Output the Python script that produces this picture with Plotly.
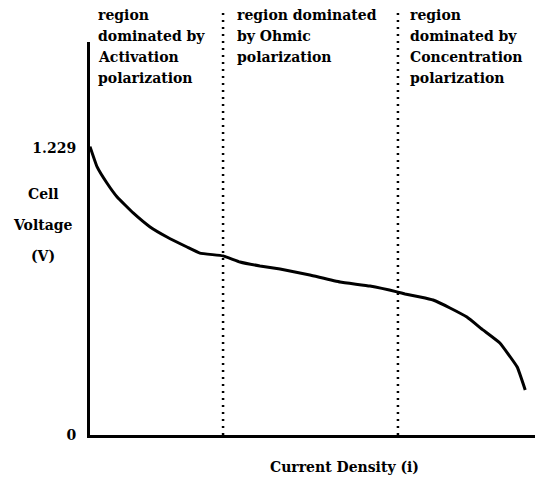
import plotly.graph_objects as go

# polarization curve
current_density = [0.000, 0.016, 0.038, 0.061, 0.097, 0.135, 0.173, 0.218, 0.247,
                   0.299, 0.337, 0.382, 0.427, 0.494, 0.562, 0.629, 0.692, 0.708, 0.742,
                   0.771, 0.809, 0.847, 0.883, 0.921, 0.960, 0.978]
cell_voltage = [1.235, 1.148, 1.079, 1.019, 0.951, 0.891, 0.848, 0.805, 0.779,
                0.767, 0.741, 0.724, 0.711, 0.685, 0.655, 0.638, 0.612, 0.604, 0.591,
                0.578, 0.544, 0.505, 0.450, 0.394, 0.291, 0.193]

region_bounds = [0.299, 0.692]
region_starts = [0.0, 0.299, 0.692]
region_labels = [
    ["region", "dominated by", "Activation", "polarization"],
    ["region dominated", "by Ohmic", "polarization"],
    ["region", "dominated by", "Concentration", "polarization"],
]
y_ticks = [0, 1.229]
y_tick_text = ["0", "1.229"]
y_title_lines = ["Cell", "Voltage", "(V)"]
x_title = "Current Density (i)"

# the page body adds an 8px margin, so the figure is a bit smaller than the window
W, H = 537, 473
L, R, T, B = 82, 10, 34, 46
plot_h = H - T - B
plot_w = W - L - R
FONT = "DejaVu Serif"
PAGE_BOTTOM = 8 + H - B   # pixel row of the x axis in the window
PAGE_LEFT = 8 + L


def py(pix):
    # window pixel row -> paper y
    return (PAGE_BOTTOM - pix) / plot_h


def px(pix):
    # window pixel column -> paper x
    return (pix - PAGE_LEFT) / plot_w


fig = go.Figure()
fig.add_trace(go.Scatter(x=current_density, y=cell_voltage, mode="lines",
                         line=dict(color="black", width=3, shape="spline", smoothing=0.3),
                         hoverinfo="skip"))

for xb in region_bounds:
    fig.add_shape(type="line", xref="x", yref="paper", x0=xb, x1=xb, y0=0, y1=py(8),
                  line=dict(color="black", width=2.5, dash="2px,5px"))

annotations = []
x_offsets = [6, 12, 10]
for start, lines, dx in zip(region_starts, region_labels, x_offsets):
    for i, txt in enumerate(lines):
        annotations.append(dict(x=start, xref="x", xshift=dx, y=py(15 + 21 * i), yref="paper",
                                text="<b>%s</b>" % txt, showarrow=False, xanchor="left",
                                yanchor="middle", font=dict(family=FONT, size=14, color="black")))

for i, txt in enumerate(y_title_lines):
    annotations.append(dict(x=px(43), xref="paper", y=py(194 + 31 * i), yref="paper",
                            text="<b>%s</b>" % txt, showarrow=False, xanchor="center",
                            yanchor="middle", font=dict(family=FONT, size=14, color="black")))

annotations.append(dict(x=px(344), xref="paper", y=py(467), yref="paper",
                        text="<b>%s</b>" % x_title, showarrow=False, xanchor="center",
                        yanchor="middle", font=dict(family=FONT, size=14, color="black")))

fig.update_layout(
    width=W, height=H,
    margin=dict(l=L, r=R, t=T, b=B),
    paper_bgcolor="white", plot_bgcolor="white",
    showlegend=False,
    annotations=annotations,
    xaxis=dict(range=[0, 1], showline=True, linecolor="black", linewidth=3,
               showgrid=False, zeroline=False, showticklabels=False, ticks=""),
    yaxis=dict(range=[0, 1.683], showline=True, linecolor="black", linewidth=3,
               showgrid=False, zeroline=False, ticks="",
               tickvals=y_ticks, ticktext=["<b>%s</b>" % t for t in y_tick_text],
               ticklabelstandoff=8,
               tickfont=dict(family=FONT, size=14, color="black")),
)

fig.write_html("out.html")
